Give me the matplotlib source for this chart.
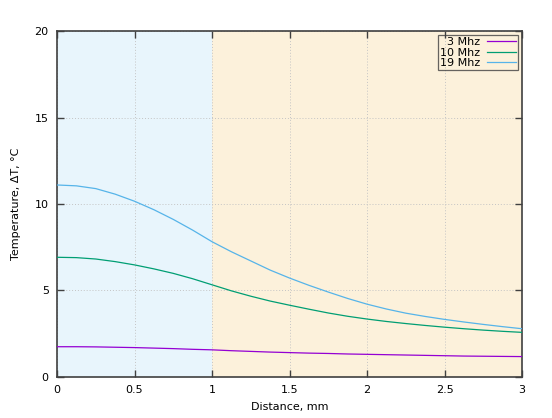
import numpy as np
import matplotlib.pyplot as plt

# distance along the probe, mm (read every 0.125 mm)
distance = [0, 0.125, 0.25, 0.375, 0.5, 0.625, 0.75, 0.875, 1.0,
            1.125, 1.25, 1.375, 1.5, 1.625, 1.75, 1.875, 2.0,
            2.125, 2.25, 2.375, 2.5, 2.625, 2.75, 2.875, 3.0]

# temperature rise, deg C
temp_3mhz = [1.75, 1.75, 1.74, 1.72, 1.70, 1.67, 1.64, 1.60, 1.57,
             1.52, 1.48, 1.44, 1.41, 1.38, 1.36, 1.33, 1.31,
             1.29, 1.27, 1.25, 1.23, 1.21, 1.20, 1.19, 1.18]
temp_10mhz = [6.92, 6.90, 6.82, 6.67, 6.48, 6.25, 5.99, 5.68, 5.33,
              4.98, 4.67, 4.39, 4.15, 3.92, 3.70, 3.51, 3.35,
              3.21, 3.09, 2.98, 2.88, 2.79, 2.71, 2.64, 2.58]
temp_19mhz = [11.10, 11.05, 10.89, 10.57, 10.16, 9.67, 9.11, 8.49, 7.82,
              7.24, 6.71, 6.18, 5.72, 5.30, 4.91, 4.54, 4.21,
              3.93, 3.69, 3.50, 3.33, 3.18, 3.04, 2.91, 2.79]

labels = ["3 Mhz", "10 Mhz", "19 Mhz"]
colors = ["#9400d3", "#009e73", "#56b4e9"]

fig = plt.figure(figsize=(5.52, 4.18), dpi=100)
ax = fig.add_axes([0.1033, 0.0981, 0.8424, 0.8277])

# shaded regions
ax.axvspan(0, 1, color="#e8f5fc", zorder=0, lw=0)
ax.axvspan(1, 3, color="#fcf1db", zorder=0, lw=0)

for y, lab, c in zip([temp_3mhz, temp_10mhz, temp_19mhz], labels, colors):
    ax.plot(distance, y, color=c, lw=0.9, label=lab, zorder=3)

ax.set_xlim(0, 3)
ax.set_ylim(0, 20)
ax.set_xticks([0, 0.5, 1, 1.5, 2, 2.5, 3])
ax.set_xticklabels(["0", "0.5", "1", "1.5", "2", "2.5", "3"])
ax.set_yticks([0, 5, 10, 15, 20])

ax.grid(True, color="#c4c4c4", linestyle=(0, (1, 2)), lw=0.7, zorder=1)
ax.set_axisbelow(True)

ax.tick_params(direction="in", top=True, right=True, length=5, width=1,
               color="#404040", labelsize=8, pad=6)
for sp in ax.spines.values():
    sp.set_color("#404040")
    sp.set_linewidth(1.2)

ax.set_xlabel("Distance, mm", fontsize=8, labelpad=5)
ax.set_ylabel("Temperature, ΔT, °C", fontsize=8, labelpad=10)

leg = ax.legend(loc="upper right", markerfirst=False, fontsize=8, frameon=True,
                fancybox=False, borderpad=0.2, labelspacing=0.05,
                handlelength=2.6, handletextpad=0.6, borderaxespad=0.35)
leg.get_frame().set_edgecolor("#404040")
leg.get_frame().set_facecolor("none")
leg.get_frame().set_linewidth(0.9)
for t in leg.get_texts():
    t.set_ha("right")

plt.savefig("out.png", dpi=100)
